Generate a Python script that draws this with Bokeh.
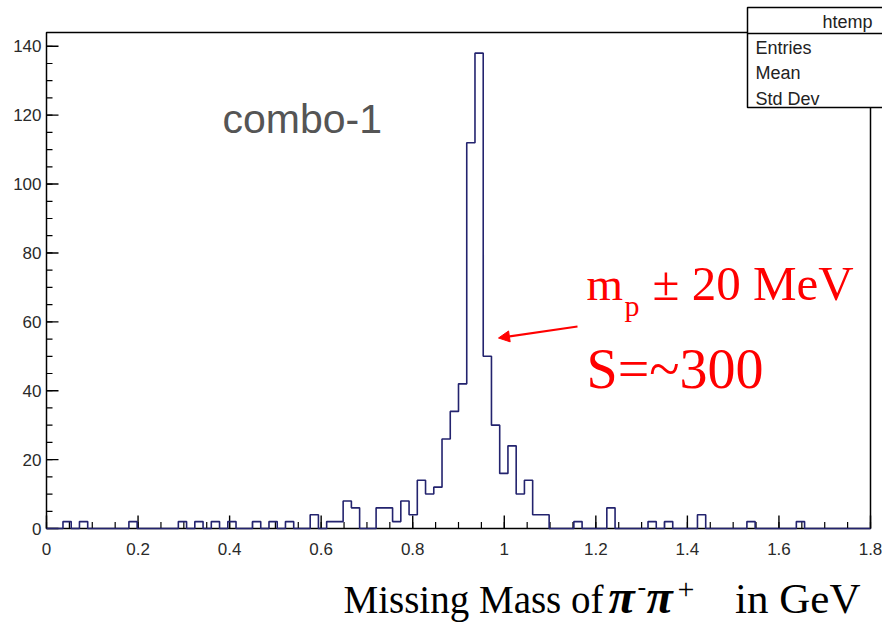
from bokeh.plotting import figure
from bokeh.models import Label, Arrow, NormalHead, Range1d
from bokeh.core.properties import value
from bokeh.embed import file_html
from bokeh.resources import INLINE

# ---------------- data ----------------
bin_width = 0.018
n_bins = 100
counts = [
    0, 0, 2, 0, 2, 0, 0, 0, 0, 0,
    2, 0, 0, 0, 0, 0, 2, 0, 2, 0,
    2, 0, 2, 0, 0, 2, 0, 2, 0, 2,
    0, 0, 4, 0, 2, 2, 8, 6, 0, 0,
    6, 6, 2, 8, 4, 14, 10, 12, 26, 34,
    42, 112, 138, 50, 30, 16, 24, 10, 14, 4,
    4, 0, 0, 0, 2, 0, 0, 0, 6, 0,
    0, 0, 0, 2, 0, 2, 0, 0, 0, 4,
    0, 0, 0, 0, 0, 2, 0, 0, 0, 0,
    0, 2, 0, 0, 0, 0, 0, 0, 0, 0,
]
x_tick_values = [0, 0.2, 0.4, 0.6, 0.8, 1, 1.2, 1.4, 1.6, 1.8]
x_tick_labels = ["0", "0.2", "0.4", "0.6", "0.8", "1", "1.2", "1.4", "1.6", "1.8"]
x_minor_step = 0.05
y_tick_values = [0, 20, 40, 60, 80, 100, 120, 140]
y_tick_labels = ["0", "20", "40", "60", "80", "100", "120", "140"]
y_minor_step = 5
stats_title = "htemp"
stats_rows = ["Entries", "Mean", "Std Dev"]

edges = [round(i * bin_width, 4) for i in range(n_bins + 1)]
step_y = counts + [counts[-1]]

# ---------------- layout helpers ----------------
W, H = 882, 622
FL, FR, FT, FB = 46, 870, 32, 528   # histogram frame in canvas pixels
XR = (0.0, 1.8)
YR = (0.0, 144.0)


def dx(px):
    return XR[0] + (px - FL) / (FR - FL) * (XR[1] - XR[0])


def dy(py):
    return YR[0] + (FB - py) / (FB - FT) * (YR[1] - YR[0])


def lx(npx):   # pixel length -> data length along x
    return npx / (FR - FL) * (XR[1] - XR[0])


def ly(npx):   # pixel length -> data length along y
    return npx / (FB - FT) * (YR[1] - YR[0])


def label(px, baseline_py, text, size, font, color, align="left", style="normal"):
    # Labels are placed by their vertical middle; convert a wanted baseline to it
    mid = baseline_py - 0.35 * size
    return Label(x=dx(px), y=dy(mid), text=text, text_align=align,
                 text_baseline="middle", text_font=font, text_font_style=style,
                 text_font_size=f"{size}px", text_color=color)


p = figure(width=W, height=H, x_range=Range1d(dx(0), dx(W)), y_range=Range1d(dy(H), dy(0)),
           output_backend="svg", toolbar_location=None,
           x_axis_location=None, y_axis_location=None,
           min_border=0, min_border_left=0, min_border_right=0,
           min_border_top=0, min_border_bottom=0)
p.grid.visible = False
p.outline_line_color = None
p.background_fill_color = "white"
p.border_fill_color = "white"

# ---------------- frame and axes (ROOT style, ticks inside) ----------------
p.quad(left=[XR[0]], right=[XR[1]], bottom=[YR[0]], top=[YR[1]],
       fill_color=None, line_color="black", line_width=1.5)

x_minor = [round(i * x_minor_step, 3) for i in range(int(round(XR[1] / x_minor_step)) + 1)]
y_minor = [i * y_minor_step for i in range(int(YR[1] // y_minor_step) + 1)]

p.segment(x0=x_tick_values, y0=[0] * len(x_tick_values),
          x1=x_tick_values, y1=[ly(13)] * len(x_tick_values),
          line_color="black", line_width=1.4)
p.segment(x0=x_minor, y0=[0] * len(x_minor), x1=x_minor, y1=[ly(6.5)] * len(x_minor),
          line_color="black", line_width=1.2)
p.segment(x0=[0] * len(y_tick_values), y0=y_tick_values,
          x1=[lx(12)] * len(y_tick_values), y1=y_tick_values,
          line_color="black", line_width=1.4)
p.segment(x0=[0] * len(y_minor), y0=y_minor, x1=[lx(6)] * len(y_minor), y1=y_minor,
          line_color="black", line_width=1.2)

p.text(x=x_tick_values, y=[dy(548)] * len(x_tick_values), text=x_tick_labels,
       text_align="center", text_baseline="middle", text_font=value("Liberation Sans"),
       text_font_size="17px", text_color="#2a2a2a")
p.text(x=[dx(41)] * len(y_tick_values), y=y_tick_values, text=y_tick_labels,
       text_align="right", text_baseline="middle", text_font=value("Liberation Sans"),
       text_font_size="17px", text_color="#2a2a2a")

# ---------------- histogram outline ----------------
p.step(x=edges, y=step_y, mode="after", line_color="#23236e", line_width=1.6)

# ---------------- stats box ----------------
p.quad(left=[dx(747)], right=[dx(892)], top=[dy(7)], bottom=[dy(107)],
       fill_color="white", line_color="black", line_width=1.5)
p.segment(x0=[dx(747)], y0=[dy(33)], x1=[dx(892)], y1=[dy(33)],
          line_color="black", line_width=1.5)
p.add_layout(Label(x=dx(872), y=dy(21), text=stats_title, text_align="right",
                   text_baseline="middle", text_font="Liberation Sans",
                   text_font_size="18px", text_color="#222222"))
for i, row in enumerate(stats_rows):
    p.add_layout(Label(x=dx(755), y=dy(47 + 25.5 * i), text=row, text_align="left",
                       text_baseline="middle", text_font="Liberation Sans",
                       text_font_size="18px", text_color="#222222"))

# ---------------- combo label ----------------
p.add_layout(label(222, 133, "combo-1", 41, "Liberation Sans", "#555555"))

# ---------------- red annotations ----------------
red = "#ff0000"
p.add_layout(label(586, 300, "m", 47, "Liberation Serif", red))
p.add_layout(label(624, 315, "p", 30, "Liberation Serif", red))
p.add_layout(label(652, 300, "\u00b1 20 MeV", 49, "Liberation Serif", red))
p.add_layout(label(586, 388, "S=~300", 56, "Liberation Serif", red))
p.add_layout(Arrow(x_start=dx(577), y_start=dy(326), x_end=dx(498), y_end=dy(337.5),
                   line_color=red, line_width=2,
                   end=NormalHead(size=11, fill_color=red, line_color=red)))

# ---------------- caption below the axis ----------------
p.add_layout(label(343, 613, "Missing Mass of", 39, "Liberation Serif", "black"))
p.add_layout(label(608, 613, "\u03c0", 48, "Liberation Serif", "black", style="bold italic"))
p.add_layout(label(637, 595, "-", 26, "Liberation Serif", "black"))
p.add_layout(label(646, 613, "\u03c0", 48, "Liberation Serif", "black", style="bold italic"))
p.add_layout(label(677, 599, "+", 30, "Liberation Serif", "black"))
p.add_layout(label(860, 613, "in GeV", 43, "Liberation Serif", "black", align="right"))

open("out.html", "w").write(file_html(p, INLINE))
